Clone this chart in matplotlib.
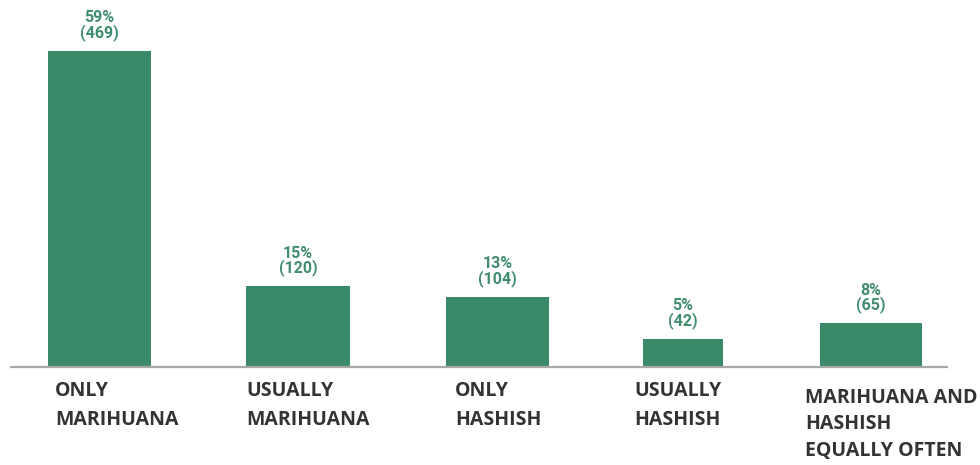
import matplotlib
matplotlib.use("Agg")
import matplotlib.pyplot as plt

categories = ["ONLY\nMARIHUANA", "USUALLY\nMARIHUANA", "ONLY\nHASHISH",
              "USUALLY\nHASHISH", "MARIHUANA AND\nHASHISH\nEQUALLY OFTEN"]
percent = [59, 15, 13, 5, 8]
counts = [469, 120, 104, 42, 65]

# layout in pixel units along x (figure is 980 px wide)
centers = [99.5, 298, 497.5, 683, 871]
widths = [103, 104, 103, 80, 102]
label_x = [55, 246, 455, 634, 805]
label_drop = [0, 0, 0, 0, 7]
label_spacing = [1.6, 1.6, 1.6, 1.6, 1.42]

bar_color = "#3a8a6a"
text_green = "#3f8d6c"

fig = plt.figure(figsize=(9.8, 4.65), dpi=100)
base = 1 - 367 / 465
ax = fig.add_axes([0, base, 1, 1 - base])
ax.set_xlim(0, 980)
ax.set_ylim(0, 367 / 0.6738)
ax.axis("off")

ax.bar(centers, counts, width=widths, color=bar_color)
ax.plot([10, 948], [0, 0], color="#a8a8a8", lw=1.6, clip_on=False,
        solid_capstyle="butt")

for c, p, n in zip(centers, percent, counts):
    ax.annotate(f"{p}%\n({n})", xy=(c, n), xytext=(0, 10),
                textcoords="offset pixels", ha="center", va="bottom",
                fontsize=11.5, fontweight="bold", color=text_green,
                family="Roboto", linespacing=0.9)

for x, d, ls, lab in zip(label_x, label_drop, label_spacing, categories):
    ax.annotate(lab, xy=(x, 0), xytext=(0, -14 - d), textcoords="offset pixels",
                ha="left", va="top", fontsize=14, fontweight="bold",
                color="#333333", family="Open Sans", linespacing=ls,
                annotation_clip=False)

fig.savefig("out.png", dpi=100)
